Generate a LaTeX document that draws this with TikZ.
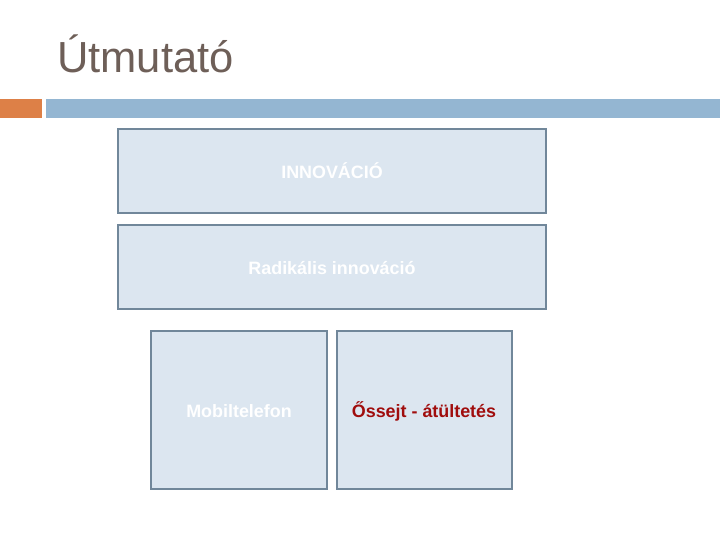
\documentclass[tikz,border=0pt]{standalone}
\usepackage{fontspec}
\setmainfont{Liberation Sans}
\definecolor{titlec}{HTML}{6E5F58}
\definecolor{orangebar}{HTML}{DD8047}
\definecolor{bluebar}{HTML}{94B6D2}
\definecolor{boxfill}{HTML}{DCE6F0}
\definecolor{boxline}{HTML}{71879A}
\definecolor{redtext}{HTML}{A00D0D}
\begin{document}
\begin{tikzpicture}[x=1pt,y=-1pt,
  panel/.style={draw=boxline,line width=2.8pt,fill=boxfill,inner sep=0pt},
  paneltext/.style={font=\bfseries\fontsize{17.9}{20}\selectfont,text=white,anchor=center,inner sep=0pt}]
\useasboundingbox (0,0) rectangle (720,540);
\fill[white] (0,0) rectangle (720,540);
\node[anchor=base west,inner sep=0pt,text=titlec,font=\fontsize{43.5}{50}\selectfont] (title) at (57,73) {Útmutató};
\fill[orangebar] (0,99) rectangle (42,118);
\fill[bluebar] (46,99) rectangle (720,118);
\draw[panel] (118,129) rectangle (546,213);
\draw[panel] (118,225) rectangle (546,309);
\draw[panel] (151,331) rectangle (327,489);
\draw[panel] (337,331) rectangle (512,489);
\node[paneltext] (t1) at (332,171) {INNOVÁCIÓ};
\node[paneltext] (t2) at (332,268) {Radikális innováció};
\node[paneltext] (t3) at (239,411) {Mobiltelefon};
\node[paneltext,text=redtext] (t4) at (424,411) {Őssejt - átültetés};
\end{tikzpicture}
\end{document}
